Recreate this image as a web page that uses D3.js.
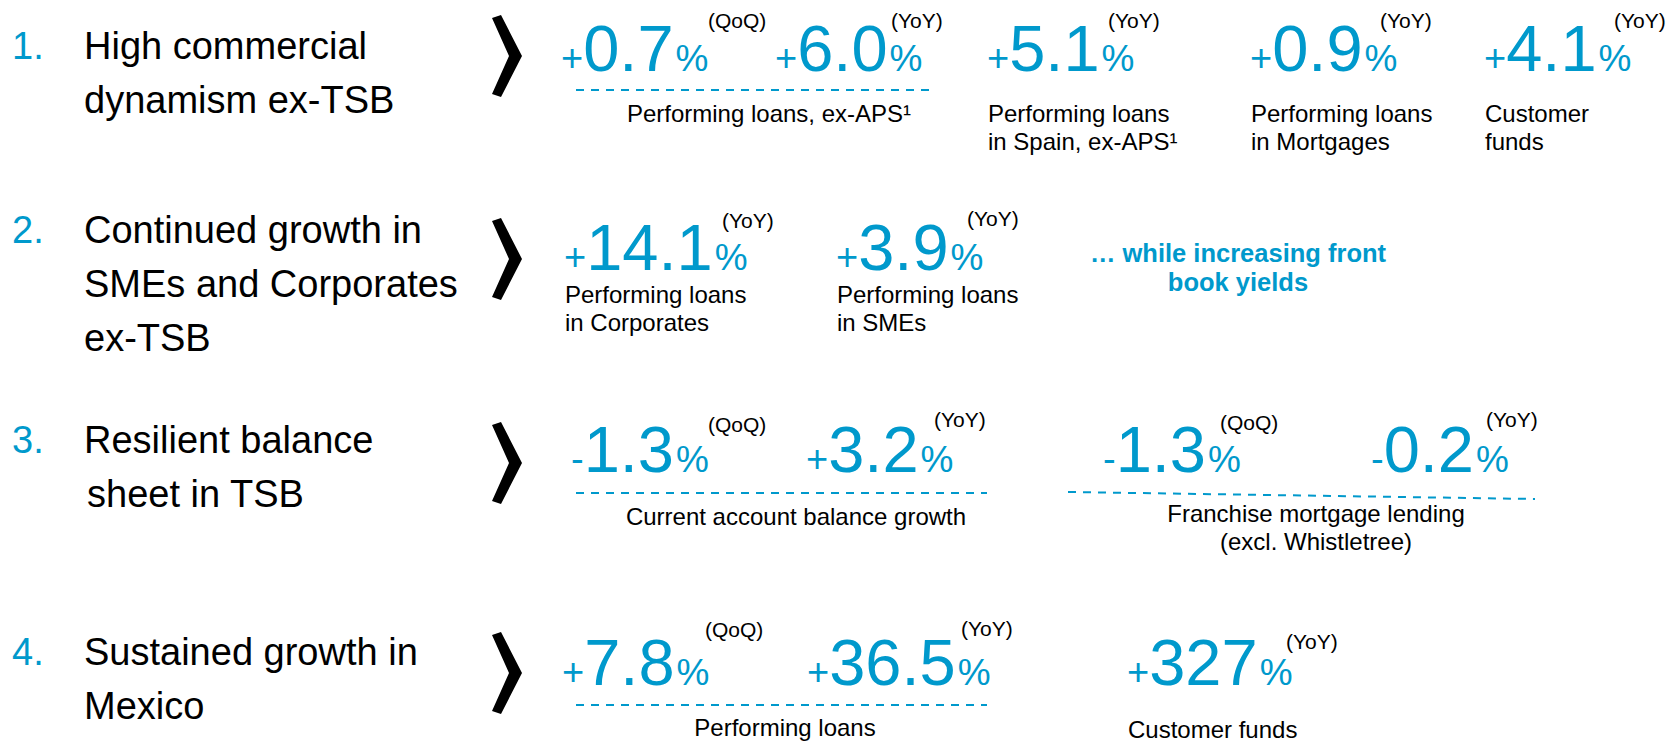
<!DOCTYPE html>
<html>
<head>
<meta charset="utf-8">
<script src="https://cdn.jsdelivr.net/npm/d3@7"></script>
<style>
  body { margin: 0; background: #fff; }
  svg { display: block; }
</style>
</head>
<body>
<div id="chart"></div>
<script>
// ---- data ----
const rowNumbers = ['1.', '2.', '3.', '4.']
const rowTitles = [
  ['High commercial', 'dynamism ex-TSB'],
  ['Continued growth in', 'SMEs and Corporates', 'ex-TSB'],
  ['Resilient balance', 'sheet in TSB'],
  ['Sustained growth in', 'Mexico']
]
const metricRow = [0, 0, 0, 0, 0, 1, 1, 2, 2, 2, 2, 3, 3, 3]
const metricValue = [0.7, 6.0, 5.1, 0.9, 4.1, 14.1, 3.9, -1.3, 3.2, -1.3, -0.2, 7.8, 36.5, 327]
const metricPeriod = ['QoQ', 'YoY', 'YoY', 'YoY', 'YoY', 'YoY', 'YoY', 'QoQ', 'YoY', 'QoQ', 'YoY', 'QoQ', 'YoY', 'YoY']
const metricLabel = [
  null, null,
  ['Performing loans', 'in Spain, ex-APS\u00b9'],
  ['Performing loans', 'in Mortgages'],
  ['Customer', 'funds'],
  ['Performing loans', 'in Corporates'],
  ['Performing loans', 'in SMEs'],
  null, null, null, null, null, null,
  ['Customer funds']
]
const groupMembers = [[0, 1], [7, 8], [9, 10], [11, 12]]
const groupLabel = [
  ['Performing loans, ex-APS\u00b9'],
  ['Current account balance growth'],
  ['Franchise mortgage lending', '(excl. Whistletree)'],
  ['Performing loans']
]
const noteLines = ['\u2026 while increasing front', 'book yields']

// ---- layout ----
const width = 1671, height = 741
const blue = '#0099cc'
const font = "'Liberation Sans', Arial, Helvetica, sans-serif"

const titleY = d3.scaleOrdinal(d3.range(4), [59, 243, 453, 665])
const titleIndent = [[0, 0], [0, 0, 0], [0, 3], [0, 0]]
const chevronY = d3.scaleOrdinal(d3.range(4), [56, 259, 463, 673])
const numberY = d3.scaleOrdinal(d3.range(4), [71, 270, 472, 685])
const labelY = d3.scaleOrdinal(d3.range(4), [122, 303, 525, 736])
const metricX = d3.scaleOrdinal(d3.range(14), [563, 777, 989, 1252, 1486, 566, 838, 573, 808, 1105, 1373, 564, 809, 1129])
const periodX = d3.scaleOrdinal(d3.range(14), [708, 891, 1108, 1380, 1614, 722, 967, 708, 934, 1220, 1486, 705, 961, 1286])
const periodLift = [43, 43, 43, 43, 43, 42, 44, 40, 45, 42, 45, 48, 49, 36]
const groupLine = [[576, 934, 90, 90], [576, 987, 493, 493], [1068, 1535, 492, 499], [576, 987, 705, 705]]
const groupLabelX = [769, 796, 1316, 785]
const groupLabelY = [122, 525, 522, 736]
const lineGap = 28

const fmt = v => d3.format(Math.abs(v) >= 100 ? '.0f' : '.1f')(Math.abs(v))

const svg = d3.select('#chart')
  .append('svg')
  .attr('width', width)
  .attr('height', height)
  .style('font-family', font)

// left column: numbered titles
const rows = svg.append('g')
  .selectAll('g')
  .data(rowTitles)
  .join('g')

rows.append('text')
  .attr('x', 12)
  .attr('y', (d, i) => titleY(i))
  .attr('fill', blue)
  .style('font-size', '38px')
  .text((d, i) => rowNumbers[i])

rows.append('text')
  .attr('y', (d, i) => titleY(i))
  .style('font-size', '38px')
  .attr('fill', '#000')
  .selectAll('tspan')
  .data((d, i) => d.map((t, j) => ({ t, dx: titleIndent[i][j] })))
  .join('tspan')
  .attr('x', d => 84 + d.dx)
  .attr('dy', (d, j) => j === 0 ? 0 : 54)
  .text(d => d.t)

// chevrons
const chev = (cy) => {
  const x0 = 492
  return `M${x0},${cy - 38}L${x0 + 9},${cy - 41}L${x0 + 30},${cy}L${x0 + 9},${cy + 41}L${x0},${cy + 38}L${x0 + 17},${cy}Z`
}
svg.append('g')
  .selectAll('path')
  .data(d3.range(4))
  .join('path')
  .attr('d', i => chev(chevronY(i)))
  .attr('fill', '#000')

// big numbers
const metrics = svg.append('g')
  .selectAll('g')
  .data(metricValue.map((v, i) => ({ v, i, row: metricRow[i] })))
  .join('g')

const num = metrics.append('text')
  .attr('x', d => metricX(d.i) - 2)
  .attr('y', d => numberY(d.row))
  .attr('fill', blue)

num.append('tspan')
  .style('font-size', '38px')
  .text(d => d.v < 0 ? '-' : '+')
num.append('tspan')
  .style('font-size', '65px')
  .text(d => fmt(d.v))
num.append('tspan')
  .attr('dx', 2)
  .style('font-size', '37px')
  .text('%')

metrics.append('text')
  .attr('x', d => periodX(d.i))
  .attr('y', d => numberY(d.row) - periodLift[d.i])
  .style('font-size', '21px')
  .attr('fill', '#000')
  .text(d => `(${metricPeriod[d.i]})`)

// single labels
metrics.filter(d => metricLabel[d.i])
  .append('text')
  .attr('y', d => d.i === 13 ? 738 : labelY(d.row))
  .style('font-size', '24px')
  .attr('fill', '#000')
  .selectAll('tspan')
  .data(d => metricLabel[d.i].map(t => ({ t, x: metricX(d.i) })))
  .join('tspan')
  .attr('x', d => d.x - 1)
  .attr('dy', (d, j) => j === 0 ? 0 : lineGap)
  .text(d => d.t)

// grouped metrics: dashed line + shared label
const groups = svg.append('g')
  .selectAll('g')
  .data(groupMembers)
  .join('g')

groups.append('line')
  .attr('x1', (d, k) => groupLine[k][0])
  .attr('x2', (d, k) => groupLine[k][1])
  .attr('y1', (d, k) => groupLine[k][2])
  .attr('y2', (d, k) => groupLine[k][3])
  .attr('stroke', blue)
  .attr('stroke-width', 2)
  .attr('stroke-dasharray', '8,7')

groups.append('text')
  .attr('y', (d, k) => groupLabelY[k])
  .attr('text-anchor', 'middle')
  .style('font-size', '24px')
  .attr('fill', '#000')
  .selectAll('tspan')
  .data((d, k) => groupLabel[k].map(t => ({ t, x: groupLabelX[k] })))
  .join('tspan')
  .attr('x', d => d.x)
  .attr('dy', (d, j) => j === 0 ? 0 : lineGap)
  .text(d => d.t)

// note
svg.append('text')
  .attr('y', 262)
  .attr('text-anchor', 'middle')
  .attr('fill', blue)
  .style('font-size', '25.5px')
  .style('font-weight', 'bold')
  .selectAll('tspan')
  .data(noteLines)
  .join('tspan')
  .attr('x', 1238)
  .attr('dy', (d, j) => j === 0 ? 0 : 29)
  .text(d => d)
</script>
</body>
</html>
